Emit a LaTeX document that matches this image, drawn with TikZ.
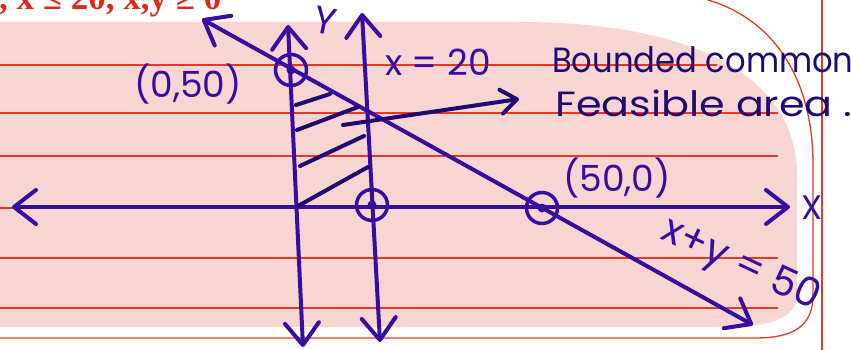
\documentclass[tikz,border=0pt]{standalone}
\usepackage{fontspec}
\usepackage{tikz}
\usetikzlibrary{arrows.meta,positioning}
\setmainfont{Liberation Serif}
\newfontfamily\handfont{Poppins}
\definecolor{pen}{RGB}{55,12,160}
\definecolor{ink}{RGB}{32,10,112}
\definecolor{sheet}{RGB}{247,213,211}
\definecolor{rule}{RGB}{232,55,40}
\definecolor{head}{RGB}{224,40,24}

\begin{document}
\begin{tikzpicture}[x=1pt, y=-1pt,
  penline/.style={draw=pen, line width=4pt, line cap=round, line join=round},
  barb/.style={-{Straight Barb[length=22pt,width=34pt,round]}},
  dbarb/.style={{Straight Barb[length=22pt,width=34pt,round]}-{Straight Barb[length=22pt,width=34pt,round]}},
  hatch/.style={draw=ink, line width=4pt, line cap=round},
  ruleline/.style={draw=rule, line width=1.3pt},
  ptmark/.style={circle, draw=pen, line width=3.5pt, minimum size=31pt, inner sep=0pt},
  hand/.style={font=\handfont\fontsize{#1}{#1}\selectfont, text=pen, inner sep=0pt},
  hand/.default=36]
  \useasboundingbox (0,0) rectangle (851,350);
  \clip (0,0) rectangle (851,350);

  % paper
  \fill[sheet] (0,22) -- (520,22) .. controls (700,22) and (797,80) .. (797,175)
    -- (797,295) .. controls (797,318) and (770,327) .. (725,327) -- (0,327) -- cycle;
  \foreach \y/\e in {65/717,113/778,156/778,208/778,258/778,308/778}
    \draw[ruleline] (0,\y) -- (\e,\y);
  \draw[ruleline] (0,338) -- (755,338) .. controls (795,338) and (813,325) .. (813,295)
    -- (813,165) .. controls (813,80) and (775,20) .. (708,0);
  \draw[ruleline] (822,0) -- (822,350);

  % constraints
  \node[anchor=base west, inner sep=0pt, text=head, font=\bfseries\fontsize{35}{35}\selectfont] (cond) at (-1,10) {, x ≤ 20, x,y ≥ 0};

  % axes and lines
  \coordinate (xl) at (12,207);
  \coordinate (xr) at (790,207);
  \coordinate (yt) at (288,25);
  \coordinate (yb) at (303,347);
  \coordinate (vt) at (362,13);
  \coordinate (vb) at (380,342);
  \coordinate (lt) at (202,19);
  \coordinate (lb) at (753,325);
  \draw[penline, dbarb] (xl) -- (xr);
  \draw[penline, dbarb] (yb) -- (yt);
  \draw[penline, dbarb] (vb) -- (vt);
  \draw[penline, dbarb] (lt) -- (lb);

  % shaded region
  \foreach \a/\b/\c/\d in {296/105/330/94, 297/130/358/107, 300/166/364/136, 298/206/368/167}
    \draw[hatch] (\a,\b) -- (\c,\d);

  % corner points
  \node[ptmark] (p0) at (291,70) {};
  \node[ptmark] (p20) at (372,205) {};
  \node[ptmark] (p50) at (542,208) {};
  \foreach \p in {p0,p20,p50}
    \fill[pen] (\p) circle (4.5);

  % labels
  \node[hand] (lab0) at (188,84) {(0,50)};
  \node[hand] (lab20) at (438,62) {x = 20};
  \node[hand] (lab50) at (617,178) {(50,0)};
  \node[hand=40, rotate=-25] (labline) at (740,266) {x+y = 50};
  \node[hand=38, rotate=-12] (labY) at (325,21) {Y};
  \node[hand=34] (labX) at (812,208) {X};

  % note
  \node[hand=35, text=ink, anchor=base west, xscale=0.92] (note1) at (552,73) {Bounded common};
  \node[hand=35, text=ink, anchor=base west, xscale=1.18] (note2) at (555,117) {Feasible area .};
  \coordinate (hs) at (343,125);
  \coordinate (ht) at (519,99);
  \draw[hatch, -{Straight Barb[length=16pt,width=24pt,round]}] (hs) -- (ht);
\end{tikzpicture}
\end{document}
